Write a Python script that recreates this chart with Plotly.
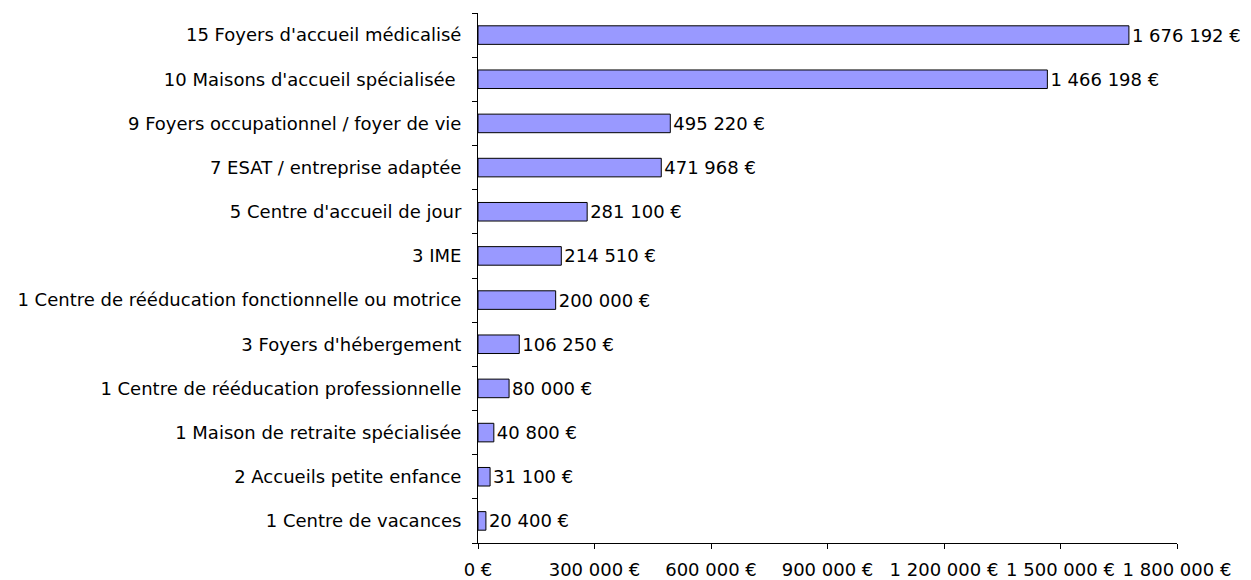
import plotly.graph_objects as go

categories = [
    "15 Foyers d'accueil médicalisé",
    "10 Maisons d'accueil spécialisée ",
    "9 Foyers occupationnel / foyer de vie",
    "7 ESAT / entreprise adaptée",
    "5 Centre d'accueil de jour",
    "3 IME",
    "1 Centre de rééducation fonctionnelle ou motrice",
    "3 Foyers d'hébergement",
    "1 Centre de rééducation professionnelle",
    "1 Maison de retraite spécialisée",
    "2 Accueils petite enfance",
    "1 Centre de vacances",
]
values = [1676192, 1466198, 495220, 471968, 281100, 214510, 200000, 106250, 80000, 40800, 31100, 20400]
tick_vals = [0, 300000, 600000, 900000, 1200000, 1500000, 1800000]


def fmt(v):
    return f"{v:,}".replace(",", " ") + " €"


tick_text = [fmt(v) for v in tick_vals]
labels = [fmt(v) for v in values]

FONT = "DejaVu Sans, Liberation Sans, Arial"
FS = 18

fig = go.Figure(
    go.Bar(
        x=values[::-1],
        y=categories[::-1],
        orientation="h",
        marker=dict(color="#9999FF", line=dict(color="black", width=1)),
        width=0.42,
        text=labels[::-1],
        textposition="outside",
        constraintext="none",
        cliponaxis=False,
        textfont=dict(family=FONT, size=FS, color="black"),
    )
)

fig.update_layout(
    width=1251,
    height=580,
    margin=dict(l=470, r=82, t=5, b=45, autoexpand=False),
    plot_bgcolor="white",
    paper_bgcolor="white",
    font=dict(family=FONT, size=FS, color="black"),
    showlegend=False,
)
fig.update_xaxes(
    range=[0, 1800000],
    tickvals=tick_vals,
    ticktext=tick_text,
    showgrid=False,
    zeroline=False,
    showline=True,
    linecolor="black",
    linewidth=1,
    ticks="outside",
    ticklen=5,
    tickcolor="black",
    ticklabelstandoff=5,
)
fig.update_yaxes(
    type="category",
    showgrid=False,
    showline=True,
    linecolor="black",
    linewidth=1,
    ticks="outside",
    ticklen=5,
    tickcolor="black",
    tickson="boundaries",
    ticklabelstandoff=12,
)

fig.write_html("out.html")
